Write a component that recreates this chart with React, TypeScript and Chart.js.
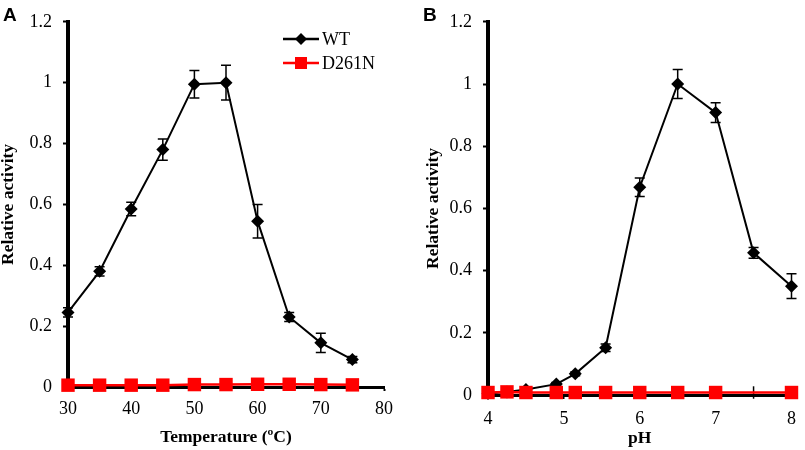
import React, { useEffect, useRef } from 'react';
import { Chart, registerables } from 'chart.js';

Chart.register(...registerables);

// ---- Panel A: temperature ----
const temperatures = [30, 35, 40, 45, 50, 55, 60, 65, 70, 75];
const wtTemp = [0.245, 0.38, 0.585, 0.78, 0.995, 1.0, 0.545, 0.23, 0.145, 0.09];
const wtTempErr = [0.015, 0.015, 0.022, 0.035, 0.045, 0.057, 0.055, 0.015, 0.032, 0.01];
const mutTemp = [0.006, 0.006, 0.006, 0.006, 0.008, 0.008, 0.009, 0.009, 0.008, 0.007];
const mutTempErr = [0.01, 0.015, 0.01, 0.01, 0.01, 0.01, 0.01, 0.01, 0.01, 0.01];
const mutTempShown = [true, true, true, true, true, true, true, true, true, true];

// ---- Panel B: pH ----
const phValues = [4, 4.25, 4.5, 4.9, 5.15, 5.55, 6, 6.5, 7, 7.5, 8];
const wtPh = [0.005, 0.01, 0.018, 0.035, 0.068, 0.152, 0.668, 1.0, 0.908, 0.457, 0.35];
const wtPhErr = [0.003, 0.003, 0.005, 0.005, 0.006, 0.012, 0.03, 0.047, 0.032, 0.017, 0.04];
const mutPh = [0.008, 0.01, 0.008, 0.008, 0.008, 0.008, 0.008, 0.008, 0.008, 0.008, 0.008];
const mutPhErr = [0.01, 0.01, 0.01, 0.01, 0.01, 0.01, 0.01, 0.01, 0.01, 0.02, 0.01];
const mutPhShown = [true, true, true, true, true, true, true, true, true, false, true];

const seriesNames = ['WT', 'D261N'];
const yAxisTitle = 'Relative activity';
const tempAxisTitle = 'Temperature (ºC)';
const phAxisTitle = 'pH';

const SERIF = "'Liberation Serif', 'Times New Roman', serif";
const SANS = "'Liberation Sans', Arial, sans-serif";
const RED = '#ff0000';

function diamond(ctx: CanvasRenderingContext2D, x: number, y: number, r: number) {
  ctx.beginPath();
  ctx.moveTo(x - r, y);
  ctx.lineTo(x, y - r);
  ctx.lineTo(x + r, y);
  ctx.lineTo(x, y + r);
  ctx.closePath();
  ctx.fill();
}

function makeConfig(p: any) {
  const wtData = p.xs.map((x: number, i: number) => ({ x, y: p.wt[i] }));
  const mutData = p.xs.map((x: number, i: number) => ({ x, y: p.mut[i] }));
  const errs = [p.mutErr, p.wtErr];
  const caps = [0, 5];

  const errorBarPlugin = {
    id: 'errorBars',
    beforeDatasetsDraw(chart: any) {
      const ctx = chart.ctx;
      const yScale = chart.scales.y;
      ctx.save();
      ctx.strokeStyle = '#000';
      ctx.lineWidth = 1.5;
      chart.data.datasets.forEach((ds: any, di: number) => {
        const meta = chart.getDatasetMeta(di);
        const cap = caps[di];
        meta.data.forEach((pt: any, i: number) => {
          const v = ds.data[i].y;
          const e = errs[di][i];
          const x = pt.x;
          const yt = yScale.getPixelForValue(v + e);
          const yb = yScale.getPixelForValue(v - e);
          ctx.beginPath();
          ctx.moveTo(x, yt);
          ctx.lineTo(x, yb);
          if (cap > 0) {
            ctx.moveTo(x - cap, yt);
            ctx.lineTo(x + cap, yt);
            ctx.moveTo(x - cap, yb);
            ctx.lineTo(x + cap, yb);
          }
          ctx.stroke();
        });
      });
      ctx.restore();
    },
  };

  const decorPlugin = {
    id: 'decor',
    afterDraw(chart: any) {
      const ctx = chart.ctx;
      ctx.save();
      ctx.fillStyle = '#000';
      ctx.font = `bold 19px ${SANS}`;
      ctx.textBaseline = 'alphabetic';
      ctx.textAlign = 'left';
      ctx.fillText(p.letter, p.letterX, 21);

      const entries = [
        { name: seriesNames[0], color: '#000', y: p.legendY[0], shape: 'diamond' },
        { name: seriesNames[1], color: RED, y: p.legendY[1], shape: 'square' },
      ];
      entries.forEach((en) => {
        const x0 = p.legendX;
        ctx.strokeStyle = en.color;
        ctx.lineWidth = 2.5;
        ctx.beginPath();
        ctx.moveTo(x0, en.y);
        ctx.lineTo(x0 + 36, en.y);
        ctx.stroke();
        ctx.fillStyle = en.color;
        if (en.shape === 'diamond') diamond(ctx, x0 + 18, en.y, 6);
        else ctx.fillRect(x0 + 18 - 6, en.y - 6, 12, 12);
        ctx.fillStyle = '#000';
        ctx.font = `18px ${SERIF}`;
        ctx.textBaseline = 'middle';
        ctx.fillText(en.name, x0 + 39, en.y + 1);
      });
      ctx.restore();
    },
  };

  return {
    type: 'line',
    data: {
      datasets: [
        {
          label: seriesNames[1],
          data: mutData,
          borderColor: RED,
          backgroundColor: RED,
          borderWidth: 2.5,
          pointStyle: 'rect',
          pointRadius: p.mutShown.map((s: boolean) => (s ? 9.5 : 0)),
          pointBorderWidth: 0,
          pointBackgroundColor: RED,
          tension: 0,
          clip: false,
          order: 0,
        },
        {
          label: seriesNames[0],
          data: wtData,
          borderColor: '#000',
          backgroundColor: '#000',
          borderWidth: 2,
          pointStyle: 'rectRot',
          pointRadius: 6.5,
          pointBorderWidth: 0,
          pointBackgroundColor: '#000',
          tension: 0,
          clip: false,
          order: 1,
        },
      ],
    },
    options: {
      responsive: false,
      animation: false,
      devicePixelRatio: 1,
      events: [],
      layout: { padding: { top: 17, right: p.padRight, bottom: 0, left: 0 } },
      plugins: { legend: { display: false }, tooltip: { enabled: false } },
      scales: {
        x: {
          type: 'linear',
          min: p.xMin,
          max: p.xMax,
          afterFit: (s: any) => { s.height = p.xAxisHeight; },
          ticks: {
            stepSize: p.xStep,
            color: '#000',
            font: { family: SERIF, size: 18 },
            padding: p.xTickPad,
            maxRotation: 0,
          },
          grid: { drawOnChartArea: false, drawTicks: true, tickLength: 4, tickWidth: 2, tickColor: '#000', color: '#000' },
          border: { display: true, color: '#000', width: 3 },
          title: {
            display: true,
            text: p.xTitle,
            color: '#000',
            font: { family: SERIF, size: 17.5, weight: 'bold', lineHeight: 1 },
            padding: { top: 0, bottom: p.xTitlePad },
          },
        },
        y: {
          min: 0,
          max: 1.2,
          afterFit: (s: any) => { s.width = p.yAxisWidth; },
          ticks: {
            stepSize: 0.2,
            color: '#000',
            font: { family: SERIF, size: 18 },
            padding: 11,
            callback: (v: any) => String(+Number(v).toFixed(1)),
          },
          grid: { drawOnChartArea: false, drawTicks: true, tickLength: 5, tickWidth: 2, tickColor: '#000', color: '#000' },
          border: { display: true, color: '#000', width: 4 },
          title: {
            display: true,
            text: yAxisTitle,
            color: '#000',
            font: { family: SERIF, size: 17.5, weight: 'bold', lineHeight: 1 },
            padding: { top: p.yTitlePad, bottom: 0 },
          },
        },
      },
    },
    plugins: [errorBarPlugin, decorPlugin],
  };
}

function Panel({ config, left, width }: any) {
  const ref = useRef<HTMLCanvasElement | null>(null);
  useEffect(() => {
    const chart = new Chart(ref.current as HTMLCanvasElement, config as any);
    return () => chart.destroy();
  }, []);
  return (
    <canvas
      ref={ref}
      width={width}
      height={450}
      style={{ position: 'absolute', left, top: 0, width, height: 450 }}
    />
  );
}

const configA = makeConfig({
  xs: temperatures, wt: wtTemp, wtErr: wtTempErr, mut: mutTemp, mutErr: mutTempErr, mutShown: mutTempShown,
  xMin: 30, xMax: 80, xStep: 10, xTitle: tempAxisTitle,
  yAxisWidth: 68, xAxisHeight: 63, yTitlePad: 0, xTitlePad: 4, xTickPad: 7, padRight: 8,
  letter: 'A', letterX: 3, legendX: 283, legendY: [39, 63],
});

const configB = makeConfig({
  xs: phValues, wt: wtPh, wtErr: wtPhErr, mut: mutPh, mutErr: mutPhErr, mutShown: mutPhShown,
  xMin: 4, xMax: 8, xStep: 1, xTitle: phAxisTitle,
  yAxisWidth: 88, xAxisHeight: 55, yTitlePad: 25, xTitlePad: 3, xTickPad: 9, padRight: 9,
  letter: 'B', letterX: 23, legendX: 512, legendY: [43, 72],
});

export default function App() {
  return (
    <div style={{ position: 'absolute', left: 0, top: 0, width: 805, height: 450, background: '#fff', overflow: 'hidden' }}>
      <Panel config={configA} left={0} width={400} />
      <Panel config={configB} left={400} width={405} />
    </div>
  );
}
